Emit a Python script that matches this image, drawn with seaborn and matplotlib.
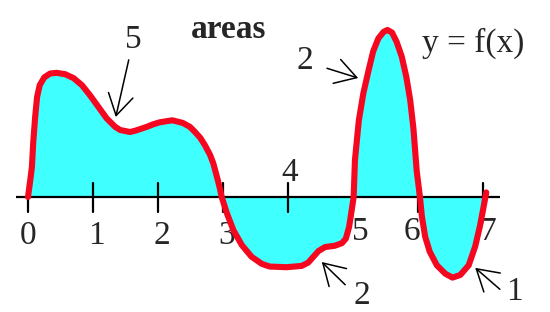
import matplotlib
matplotlib.use("Agg")
import matplotlib.pyplot as plt
import seaborn as sns
import numpy as np

# ---- data ----
curve_x = [0.00, 0.03, 0.06, 0.08, 0.11, 0.14, 0.18, 0.25, 0.34, 0.44, 0.57, 0.70, 0.83,
           0.95, 1.08, 1.21, 1.34, 1.42, 1.57, 1.65, 1.83, 1.93, 2.03, 2.22, 2.38, 2.49,
           2.57, 2.65, 2.72, 2.80, 2.85, 2.92, 2.95, 2.98,
           3.06, 3.16, 3.29, 3.44, 3.60, 3.72, 3.98, 4.21, 4.31, 4.39, 4.47, 4.57, 4.72,
           4.83, 4.89, 4.94, 4.98, 5.01,
           5.03, 5.09, 5.16, 5.24, 5.31, 5.39, 5.47, 5.53, 5.60, 5.67, 5.75, 5.82, 5.88,
           5.93, 5.98, 6.03,
           6.06, 6.11, 6.18, 6.29, 6.42, 6.53, 6.65, 6.78, 6.88, 6.95, 7.00, 7.05]
curve_y = [0.00, 0.22, 0.46, 0.83, 1.23, 1.54, 1.72, 1.84, 1.90, 1.91, 1.89, 1.83, 1.72,
           1.57, 1.39, 1.21, 1.08, 1.03, 1.00, 1.02, 1.08, 1.12, 1.15, 1.18, 1.14, 1.08,
           1.00, 0.91, 0.80, 0.65, 0.52, 0.26, 0.14, 0.00,
           -0.25, -0.51, -0.74, -0.92, -1.03, -1.07, -1.08, -1.06, -1.01, -0.92, -0.83, -0.77, -0.75,
           -0.71, -0.64, -0.46, -0.20, 0.00,
           0.57, 1.18, 1.60, 1.95, 2.24, 2.44, 2.54, 2.57, 2.53, 2.39, 2.16, 1.85, 1.49,
           1.05, 0.40, 0.00,
           -0.30, -0.61, -0.84, -1.05, -1.18, -1.24, -1.20, -1.05, -0.76, -0.46, -0.20, 0.07]

tick_values = [0, 1, 2, 3, 4, 5, 6, 7]
tick_labels = ["0", "1", "2", "3", "4", "5", "6", "7"]
tick_label_x = [0.00, 1.05, 2.06, 3.05, 4.03, 5.12, 5.91, 7.08]
tick_label_y = [-0.60, -0.60, -0.60, -0.60, 0.38, -0.54, -0.54, -0.54]

area_labels = ["5", "2", "2", "1"]
area_label_pos = [(1.62, 2.42), (4.26, 2.09), (5.14, -1.52), (7.49, -1.46)]
arrow_tails = [(1.55, 2.11), (4.60, 1.98), (4.88, -1.35), (7.26, -1.42)]
arrow_tips = [(1.35, 1.23), (5.08, 1.83), (4.52, -1.00), (6.88, -1.09)]

title_text = "areas"
func_text = "y = f(x)"

RED = "#f5071f"
CYAN = "#40ffff"

sns.set_theme(style="white")
plt.rcParams["font.family"] = ["Liberation Serif", "DejaVu Serif"]

fig = plt.figure(figsize=(5.5, 3.12), dpi=100)
ax = fig.add_axes([0, 0, 1, 1])
ax.set_xlim(-28 / 65, 522 / 65)
ax.set_ylim(-115 / 65, 197 / 65)
ax.axis("off")

xs = np.array(curve_x)
ys = np.array(curve_y)
ax.fill_between(xs, ys, 0, color=CYAN, lw=0, zorder=2)

# x axis line and ticks
ax.plot([-0.19, 7.26], [0, 0], color="black", lw=1.6, zorder=3, solid_capstyle="butt")
for t in tick_values:
    ax.plot([t, t], [0.215, -0.23], color="black", lw=1.6, zorder=3)

sns.lineplot(x=xs, y=ys, sort=False, color=RED, lw=4.4, ax=ax, zorder=5,
             estimator=None)
for ln in ax.lines[-1:]:
    ln.set_solid_capstyle("round")
    ln.set_solid_joinstyle("round")

FS = 24
for lx, ly, lab in zip(tick_label_x, tick_label_y, tick_labels):
    ax.text(lx, ly, lab, fontsize=FS, ha="center", va="center", zorder=1)

ax.text(3.08, 2.57, title_text, fontsize=FS, fontweight="bold", ha="center", va="center")
ax.text(6.85, 2.36, func_text, fontsize=FS, ha="center", va="center")

for (px, py), lab, tail, tip in zip(area_label_pos, area_labels, arrow_tails, arrow_tips):
    ax.text(px, py, lab, fontsize=FS, ha="center", va="center")
    ax.annotate("", xy=tip, xytext=tail,
                arrowprops=dict(arrowstyle="->,head_length=0.75,head_width=0.45",
                                color="black", lw=1.1, mutation_scale=20,
                                shrinkA=0, shrinkB=0))

fig.savefig("out.png", dpi=100)
